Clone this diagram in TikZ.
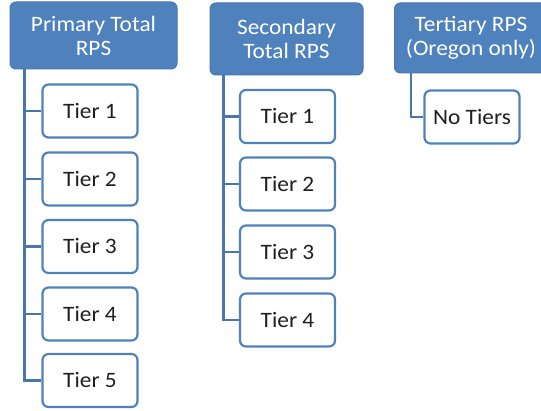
\documentclass[tikz,border=0pt]{standalone}
\usepackage{fontspec}
\setmainfont{Carlito}[FakeStretch=1.06]
\usepackage{xcolor}
\usepackage{tikz}

\definecolor{rpsblue}{HTML}{4F81BD}
\definecolor{rpsedge}{HTML}{4777B0}
\definecolor{spineblue}{HTML}{4A76AC}

\begin{document}
\begin{tikzpicture}[x=1pt,y=-1pt,
        header/.style={draw=rpsedge, line width=1pt, fill=rpsblue, rounded corners=6pt,
            text=white, align=center, inner sep=0pt,
            font=\fontsize{22}{24}\selectfont},
        tierbox/.style={draw=rpsblue, line width=2.2pt, fill=white, rounded corners=6pt,
            text=black!88, inner sep=0pt, minimum width=95pt, minimum height=53pt,
            font=\fontsize{22}{24}\selectfont},
        spine/.style={draw=spineblue, line width=2.8pt}]
        \useasboundingbox (0,0) rectangle (541,411);
        % Headers
        \node[header, minimum width=167pt, minimum height=67pt] (primary) at (93.5,35.5) {Primary Total\\RPS};
        \node[header, minimum width=153pt, minimum height=72pt] (secondary) at (286.5,39) {Secondary\\Total RPS};
        \node[header, minimum width=153pt, minimum height=70pt] (tertiary) at (471,38) {Tertiary RPS\\(Oregon only)};
        % Primary tiers
        \node[tierbox] (p1) at (90,111) {Tier 1};
        \node[tierbox] (p2) at (90,179) {Tier 2};
        \node[tierbox] (p3) at (90,246.5) {Tier 3};
        \node[tierbox] (p4) at (90,314) {Tier 4};
        \node[tierbox] (p5) at (90,380.5) {Tier 5};
        % Secondary tiers
        \node[tierbox] (s1) at (287.5,116.5) {Tier 1};
        \node[tierbox] (s2) at (287.5,184) {Tier 2};
        \node[tierbox] (s3) at (287.5,252) {Tier 3};
        \node[tierbox] (s4) at (287.5,320) {Tier 4};
        % Tertiary
        \node[tierbox] (t1) at (472,117) {No Tiers};
        % Connectors
        \foreach \i in {1,...,5}
            \draw[spine] ([xshift=15pt]primary.south west) |- (p\i.west);
        \foreach \i in {1,...,4}
            \draw[spine] ([xshift=14pt]secondary.south west) |- (s\i.west);
        \draw[spine] ([xshift=17pt]tertiary.south west) |- (t1.west);
    \end{tikzpicture}
\end{document}
